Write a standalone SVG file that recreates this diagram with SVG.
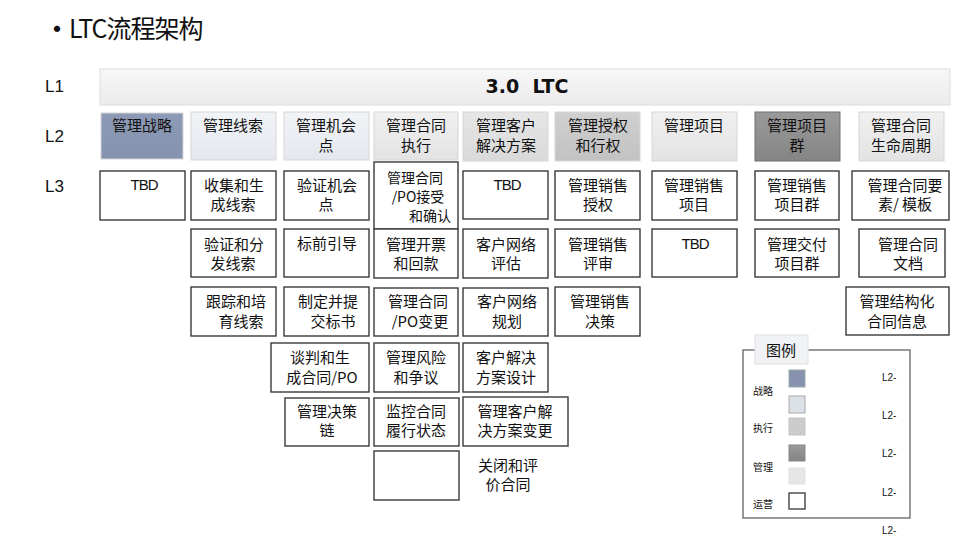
<svg xmlns="http://www.w3.org/2000/svg" width="960" height="540" viewBox="0 0 960 540">
<defs>
<linearGradient id="gL1" x1="0" y1="0" x2="0" y2="1"><stop offset="0" stop-color="#F7F7F7"/><stop offset="1" stop-color="#EBEBEB"/></linearGradient>
<linearGradient id="gStr" x1="0" y1="0" x2="0" y2="1"><stop offset="0" stop-color="#8D9AB5"/><stop offset="1" stop-color="#8593AE"/></linearGradient>
<linearGradient id="gExe" x1="0" y1="0" x2="0" y2="1"><stop offset="0" stop-color="#F1F3F6"/><stop offset="1" stop-color="#E4E8EE"/></linearGradient>
<linearGradient id="gLt" x1="0" y1="0" x2="0" y2="1"><stop offset="0" stop-color="#F0F0F0"/><stop offset="1" stop-color="#E3E3E3"/></linearGradient>
<linearGradient id="gMid" x1="0" y1="0" x2="0" y2="1"><stop offset="0" stop-color="#E6E6E6"/><stop offset="1" stop-color="#D9D9D9"/></linearGradient>
<linearGradient id="gGr" x1="0" y1="0" x2="0" y2="1"><stop offset="0" stop-color="#D0D0D0"/><stop offset="1" stop-color="#C2C2C2"/></linearGradient>
<linearGradient id="gDk" x1="0" y1="0" x2="0" y2="1"><stop offset="0" stop-color="#9A9A9A"/><stop offset="1" stop-color="#848484"/></linearGradient>
</defs>
<style>
text{font-family:"Noto Sans CJK SC","Liberation Sans",sans-serif;fill:#111}
.lv{font-family:"Liberation Sans","Noto Sans CJK SC",sans-serif;font-size:17px}
.t{font-size:15px;text-anchor:middle}
.tbd{font-family:"Liberation Sans",sans-serif;letter-spacing:-1px}
.l2{stroke:#D6D6D6;stroke-width:1}
.l3{fill:#FFF;stroke:#3A3A3A;stroke-width:1.4}
.sm{font-size:10px}
.lt{font-family:"Liberation Sans",sans-serif}
</style>
<g id="title">
<text x="42" y="40" style="font-size:30px">•</text>
<text x="69" y="38" style="font-size:25px;letter-spacing:-1px">LTC流程架构</text>
</g>
<g id="levels">
<text class="lv" x="45" y="92">L1</text>
<text class="lv" x="45" y="142">L2</text>
<text class="lv" x="45" y="192">L3</text>
</g>
<g id="l1">
<rect x="100" y="69" width="850" height="36" fill="url(#gL1)" stroke="#DCDCDC"/>
<text x="527" y="93" style="font-family:'DejaVu Sans','Liberation Sans',sans-serif;font-size:19px;font-weight:bold;text-anchor:middle">3.0&#160; LTC</text>
</g>
<g id="l2">
<g id="l2-1"><rect class="l2" x="101" y="113" width="82" height="46" fill="url(#gStr)"/><text class="t" x="142" y="131">管理战略</text></g>
<g id="l2-2"><rect class="l2" x="191" y="112" width="85" height="48" fill="url(#gExe)"/><text class="t" x="233" y="131">管理线索</text></g>
<g id="l2-3"><rect class="l2" x="284" y="112" width="85" height="48" fill="url(#gExe)"/><text class="t" x="326" y="131">管理机会<tspan x="326" dy="20">点</tspan></text></g>
<g id="l2-4"><rect class="l2" x="374" y="112" width="84" height="48" fill="url(#gLt)"/><text class="t" x="416" y="131">管理合同<tspan x="416" dy="20">执行</tspan></text></g>
<g id="l2-5"><rect class="l2" x="463" y="112" width="85" height="49" fill="url(#gMid)"/><text class="t" x="506" y="131">管理客户<tspan x="506" dy="20">解决方案</tspan></text></g>
<g id="l2-6"><rect class="l2" x="555" y="112" width="85" height="49" fill="url(#gGr)"/><text class="t" x="598" y="131">管理授权<tspan x="598" dy="20">和行权</tspan></text></g>
<g id="l2-7"><rect class="l2" x="652" y="112" width="85" height="49" fill="url(#gLt)"/><text class="t" x="694" y="131">管理项目</text></g>
<g id="l2-8"><rect x="755" y="112" width="85" height="49" fill="url(#gDk)" stroke="#707070"/><text class="t" x="797" y="131">管理项目<tspan x="797" dy="20">群</tspan></text></g>
<g id="l2-9"><rect class="l2" x="859" y="112" width="85" height="49" fill="url(#gLt)"/><text class="t" x="901" y="131">管理合同<tspan x="901" dy="20">生命周期</tspan></text></g>
</g>
<g id="l3">
<g id="c1r1"><rect class="l3" x="100" y="171" width="85" height="49"/><text class="t tbd" x="144" y="190">TBD</text></g>
<g id="c2r1"><rect class="l3" x="191" y="171" width="85" height="49"/><text class="t" x="234" y="191">收集和生<tspan x="233" dy="19">成线索</tspan></text></g>
<g id="c2r2"><rect class="l3" x="191" y="229" width="85" height="48"/><text class="t" x="234" y="250">验证和分<tspan x="233" dy="19">发线索</tspan></text></g>
<g id="c2r3"><rect class="l3" x="191" y="287" width="85" height="49"/><text class="t" x="236" y="307">跟踪和培<tspan x="241" dy="20">育线索</tspan></text></g>
<g id="c3r1"><rect class="l3" x="284" y="171" width="85" height="49"/><text class="t" x="327" y="191">验证机会<tspan x="326" dy="19">点</tspan></text></g>
<g id="c3r2"><rect class="l3" x="284" y="229" width="85" height="48"/><text class="t" x="327" y="249">标前引导</text></g>
<g id="c3r3"><rect class="l3" x="284" y="287" width="85" height="49"/><text class="t" x="328" y="307">制定并提<tspan x="333" dy="20">交标书</tspan></text></g>
<g id="c3r4"><rect class="l3" x="271" y="343" width="98" height="49"/><text class="t" x="320" y="363">谈判和生<tspan x="322" dy="20">成合同/PO</tspan></text></g>
<g id="c3r5"><rect class="l3" x="285" y="398" width="84" height="48"/><text class="t" x="327" y="417">管理决策<tspan x="327" dy="19">链</tspan></text></g>
<g id="c4r1"><rect class="l3" x="374" y="162" width="84" height="67"/><text class="t" x="415" y="183" style="font-size:14px">管理合同<tspan x="418" dy="19">/PO接受</tspan><tspan x="430" dy="19">和确认</tspan></text></g>
<g id="c4r2"><rect class="l3" x="374" y="229" width="84" height="49"/><text class="t" x="416" y="250">管理开票<tspan x="416" dy="19">和回款</tspan></text></g>
<g id="c4r3"><rect class="l3" x="374" y="288" width="84" height="48"/><text class="t" x="418" y="307">管理合同<tspan x="420" dy="20">/PO变更</tspan></text></g>
<g id="c4r4"><rect class="l3" x="374" y="343" width="85" height="49"/><text class="t" x="416" y="363">管理风险<tspan x="416" dy="20">和争议</tspan></text></g>
<g id="c4r5"><rect class="l3" x="374" y="398" width="85" height="48"/><text class="t" x="416" y="417">监控合同<tspan x="416" dy="19">履行状态</tspan></text></g>
<g id="c4r6"><rect class="l3" x="374" y="451" width="85" height="49"/></g>
<g id="c5r1"><rect class="l3" x="463" y="171" width="85" height="48"/><text class="t tbd" x="507" y="190">TBD</text></g>
<g id="c5r2"><rect class="l3" x="463" y="229" width="85" height="49"/><text class="t" x="506" y="250">客户网络<tspan x="506" dy="19">评估</tspan></text></g>
<g id="c5r3"><rect class="l3" x="463" y="288" width="85" height="48"/><text class="t" x="507" y="307">客户网络<tspan x="507" dy="20">规划</tspan></text></g>
<g id="c5r4"><rect class="l3" x="463" y="343" width="85" height="49"/><text class="t" x="506" y="363">客户解决<tspan x="506" dy="20">方案设计</tspan></text></g>
<g id="c5r5"><rect class="l3" x="463" y="397" width="105" height="49"/><text class="t" x="515" y="417">管理客户解<tspan x="515" dy="19">决方案变更</tspan></text></g>
<g id="c5r6"><text class="t" x="508" y="471">关闭和评<tspan x="508" dy="19">价合同</tspan></text></g>
<g id="c6r1"><rect class="l3" x="555" y="171" width="85" height="49"/><text class="t" x="598" y="191">管理销售<tspan x="598" dy="19">授权</tspan></text></g>
<g id="c6r2"><rect class="l3" x="555" y="229" width="85" height="48"/><text class="t" x="598" y="250">管理销售<tspan x="598" dy="19">评审</tspan></text></g>
<g id="c6r3"><rect class="l3" x="555" y="287" width="85" height="49"/><text class="t" x="600" y="307">管理销售<tspan x="600" dy="20">决策</tspan></text></g>
<g id="c7r1"><rect class="l3" x="652" y="171" width="85" height="49"/><text class="t" x="694" y="191">管理销售<tspan x="694" dy="19">项目</tspan></text></g>
<g id="c7r2"><rect class="l3" x="652" y="229" width="85" height="48"/><text class="t tbd" x="695" y="249">TBD</text></g>
<g id="c8r1"><rect class="l3" x="755" y="171" width="84" height="49"/><text class="t" x="797" y="191">管理销售<tspan x="797" dy="19">项目群</tspan></text></g>
<g id="c8r2"><rect class="l3" x="755" y="229" width="84" height="48"/><text class="t" x="797" y="250">管理交付<tspan x="797" dy="19">项目群</tspan></text></g>
<g id="c9r1"><rect class="l3" x="852" y="171" width="97" height="49"/><text class="t" x="905" y="191">管理合同要<tspan x="905" dy="19">素/ 模板</tspan></text></g>
<g id="c9r2"><rect class="l3" x="859" y="229" width="86" height="48"/><text class="t" x="908" y="250">管理合同<tspan x="908" dy="19">文档</tspan></text></g>
<g id="c9r3"><rect class="l3" x="846" y="287" width="103" height="48"/><text class="t" x="897" y="307">管理结构化<tspan x="897" dy="20">合同信息</tspan></text></g>
</g>
<g id="legend">
<rect x="743" y="350" width="167" height="168" fill="#FFF" stroke="#555" stroke-width="1.2"/>
<rect x="755" y="335" width="53" height="29" fill="#F0F2F5" stroke="#E0E0E0"/>
<text x="781" y="356" style="font-size:15px;text-anchor:middle">图例</text>
<rect x="789" y="370" width="16" height="17" fill="#8793AE" stroke="#9AA"/>
<rect x="789" y="396" width="16" height="17" fill="#DCE1E8" stroke="#AAA"/>
<rect x="789" y="418" width="16" height="17" fill="#CCCCCC" stroke="#C4C4C4"/>
<rect x="789" y="445" width="16" height="16" fill="url(#gDk)" stroke="#888"/>
<rect x="789" y="468" width="16" height="16" fill="#E6E6E6" stroke="#E2E2E2"/>
<rect x="789" y="493" width="16" height="16" fill="#FFF" stroke="#444" stroke-width="1.4"/>
<text class="sm" x="753" y="395">战略</text>
<text class="sm" x="753" y="432">执行</text>
<text class="sm" x="753" y="471">管理</text>
<text class="sm" x="753" y="508">运营</text>
<text class="sm lt" x="882" y="381">L2-</text>
<text class="sm lt" x="882" y="419">L2-</text>
<text class="sm lt" x="882" y="457">L2-</text>
<text class="sm lt" x="882" y="496">L2-</text>
<text class="sm lt" x="882" y="534">L2-</text>
</g>
</svg>
